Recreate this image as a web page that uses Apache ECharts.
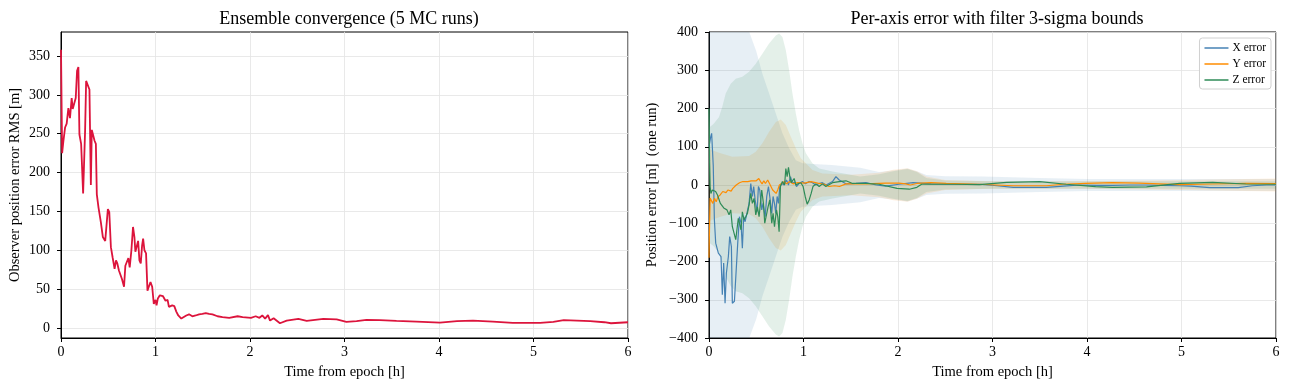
<meta charset="UTF-8">
<script src="https://cdn.jsdelivr.net/npm/echarts@6/dist/echarts.min.js"></script>

<style>
    body { margin: 0; }
</style>
<div id="main" style="width:1290px;height:390px;"></div>

<script>
    /* left panel: ensemble RMS position error */
    var rmsT = [0, 0.012, 0.025, 0.043, 0.06, 0.07, 0.078, 0.095, 0.113, 0.124, 0.142, 0.156, 0.17, 0.184, 0.195, 0.213, 0.234, 0.255, 0.266, 0.284, 0.301, 0.316, 0.326, 0.34, 0.355, 0.369, 0.379, 0.397, 0.422, 0.443, 0.468, 0.486, 0.496, 0.511, 0.528, 0.546, 0.567, 0.582, 0.596, 0.613, 0.645, 0.667, 0.681, 0.695, 0.713, 0.727, 0.745, 0.762, 0.777, 0.787, 0.801, 0.816, 0.83, 0.844, 0.858, 0.869, 0.883, 0.9, 0.915, 0.929, 0.947, 0.965, 0.982, 1.0, 1.011, 1.025, 1.046, 1.06, 1.078, 1.092, 1.106, 1.128, 1.142, 1.16, 1.177, 1.199, 1.22, 1.241, 1.273, 1.294, 1.326, 1.355, 1.39, 1.425, 1.461, 1.496, 1.532, 1.567, 1.603, 1.656, 1.709, 1.78, 1.869, 1.922, 2.01, 2.06, 2.1, 2.13, 2.16, 2.19, 2.212, 2.25, 2.317, 2.388, 2.512, 2.6, 2.776, 2.917, 3.02, 3.128, 3.233, 3.374, 3.55, 3.762, 4.01, 4.19, 4.36, 4.57, 4.78, 5.07, 5.21, 5.32, 5.46, 5.6, 5.75, 5.82, 6.0];
    var rmsVal = [358, 225, 240, 258, 263, 262, 283, 270, 296, 282, 290, 296, 331, 336, 249, 237, 173, 254, 318, 320, 307, 184, 255, 254, 241, 237, 172, 155, 136, 117, 112, 110, 153, 149, 104, 91, 76, 87, 83, 74, 63, 53, 80, 80, 90, 78, 100, 130, 117, 98, 100, 112, 87, 83, 106, 115, 100, 96, 48, 53, 59, 53, 31, 36, 29, 38, 42, 40, 41, 40, 35, 36, 27, 25, 29, 28, 21, 16, 12, 14, 16, 17.5, 15, 16, 17.5, 18, 19, 18, 17.5, 15, 14, 13, 15, 14, 13, 15, 13, 16, 12, 16.5, 9.4, 12.4, 6, 9.4, 11.6, 9, 11.6, 11, 7.7, 8.6, 10.3, 9.9, 9, 8.1, 6.9, 8.6, 9.4, 8.1, 6.4, 6.4, 7.7, 9.9, 9.4, 8.6, 7.3, 6, 7.3];
    var rmsTicks = [0, 50, 100, 150, 200, 250, 300, 350];

    /* right panel: per-axis error of one run */
    var xErrT = [0, 0.018, 0.028, 0.045, 0.057, 0.071, 0.085, 0.099, 0.113, 0.127, 0.141, 0.155, 0.17, 0.184, 0.205, 0.219, 0.237, 0.247, 0.269, 0.29, 0.304, 0.322, 0.339, 0.353, 0.367, 0.382, 0.403, 0.424, 0.442, 0.459, 0.473, 0.488, 0.509, 0.523, 0.537, 0.558, 0.572, 0.594, 0.611, 0.629, 0.643, 0.664, 0.678, 0.693, 0.707, 0.721, 0.735, 0.749, 0.77, 0.795, 0.82, 0.841, 0.862, 0.883, 0.905, 0.926, 0.954, 0.989, 1.02, 1.06, 1.095, 1.13, 1.166, 1.2, 1.24, 1.307, 1.343, 1.378, 1.449, 1.555, 1.66, 1.77, 1.87, 2.01, 2.16, 2.35, 2.6, 2.86, 3.05, 3.22, 3.4, 3.57, 3.75, 3.92, 4.1, 4.27, 4.45, 4.63, 4.8, 4.98, 5.1, 5.3, 5.45, 5.6, 5.75, 5.9, 6.0];
    var xErr = [100, 126, 135, 50, -91, -152, -152, -178, -180, -187, -287, -204, -309, -230, -187, -135, -161, -309, -304, -309, -152, -83, -100, -165, -83, -96, -91, -48, 4, -30, -4, -39, -70, -4, -13, -65, -48, -83, -30, -4, -30, -74, -30, -48, -74, -30, -48, -4, 4, 0, 13, 0, 22, 4, 8, -4, 4, 9, 3, 9, 6, 0, 4, 6, 0, 9, 22, 13, 3, 4, 6, 0, -3, 2, 6, 3, 2, 2, -2, -6, -6, -6, -3, 0, -1, -1, 0, 0, -1, -2, -3, -7, -7, -7, -2, 0, 0];

    var yErrT = [0, 0.005, 0.012, 0.02, 0.04, 0.058, 0.076, 0.095, 0.118, 0.146, 0.163, 0.18, 0.2, 0.234, 0.252, 0.288, 0.323, 0.358, 0.41, 0.446, 0.464, 0.5, 0.527, 0.545, 0.562, 0.58, 0.597, 0.621, 0.64, 0.657, 0.674, 0.692, 0.71, 0.727, 0.745, 0.763, 0.798, 0.82, 0.855, 0.89, 0.94, 1.01, 1.08, 1.15, 1.22, 1.27, 1.33, 1.38, 1.45, 1.66, 1.87, 2.01, 2.08, 2.13, 2.2, 2.35, 2.51, 2.86, 3.22, 3.57, 3.75, 3.99, 4.27, 4.55, 4.98, 5.33, 5.68, 6.0];
    var yErr = [-190, -120, -34, -39, -48, -35, -44, -31, -26, -17, -15, -20, -13, -16, -9, 0, 6, 9, 9, 11, 9, 11, 17, 9, 3, 11, 4, 13, 4, 5, -13, -9, -22, -13, 0, 4, 9, 3, 9, 3, 6, 5, 9, 5, 2, -4, -2, -4, 3, 3, 5, 5, 3, 0, 4, 6, 4, 2, -2, -2, 2, 4, 6, 5, 1, 2.6, 4, 3.5];

    var zErrT = [0, 0.003, 0.006, 0.012, 0.02, 0.035, 0.07, 0.09, 0.12, 0.16, 0.19, 0.212, 0.23, 0.247, 0.265, 0.283, 0.3, 0.31, 0.325, 0.339, 0.353, 0.371, 0.389, 0.406, 0.424, 0.442, 0.459, 0.477, 0.495, 0.512, 0.53, 0.544, 0.558, 0.576, 0.59, 0.608, 0.625, 0.643, 0.664, 0.678, 0.693, 0.714, 0.728, 0.742, 0.756, 0.777, 0.8, 0.813, 0.827, 0.841, 0.855, 0.87, 0.884, 0.901, 0.92, 0.947, 0.972, 0.996, 1.018, 1.039, 1.06, 1.081, 1.1, 1.131, 1.166, 1.2, 1.237, 1.307, 1.378, 1.449, 1.52, 1.66, 1.8, 1.99, 2.12, 2.2, 2.25, 2.6, 2.86, 3.15, 3.5, 3.78, 4.09, 4.27, 4.63, 4.98, 5.33, 5.68, 6.0];
    var zErr = [200, 150, 65, -4, -22, -13, -17, -26, -48, -61, -65, -78, -65, -109, -126, -143, -139, -87, -83, -117, -70, -91, -83, -74, -52, -22, -48, -35, -78, -57, -83, -48, -13, -48, -100, -100, -57, -39, -100, -74, -109, -65, -83, -122, -4, 9, 0, 43, 22, 46, 22, 6, 4, 17, 0, 4, 6, -4, -30, -50, -39, -22, -4, 3, -4, 3, -4, 6, 9, 11, 4, 4, 2, -9, -11, -6, 2, 2, 1, 7, 9, 2, -4, -6, -5, 4, 6.7, 2.6, 2];

    /* filter 3-sigma bounds (symmetric about zero) */
    var xSigT = [0, 0.1, 0.2, 0.3, 0.42, 0.5, 0.565, 0.636, 0.707, 0.777, 0.848, 0.919, 0.99, 1.1, 1.3, 1.6, 1.8, 1.95, 2.1, 2.2, 2.3, 2.5, 2.9, 3.5, 4.0, 5.0, 6.0];
    var xSig = [1500, 900, 650, 500, 404, 350, 291, 239, 187, 135, 96, 65, 57, 55, 52, 45, 34, 38, 43, 36, 26, 23, 22, 18, 16, 16, 16];
    var ySigT = [0, 0.035, 0.106, 0.247, 0.424, 0.495, 0.565, 0.636, 0.707, 0.76, 0.813, 0.866, 0.919, 0.972, 1.025, 1.095, 1.2, 1.5, 1.8, 1.95, 2.1, 2.2, 2.3, 2.5, 3, 4, 5, 6];
    var ySig = [95, 91, 84, 74, 76, 87, 109, 139, 165, 171, 157, 126, 96, 70, 57, 39, 30, 27, 32, 40, 44, 36, 22, 13, 10, 10, 13, 17];
    var zSigT = [0, 0.05, 0.106, 0.14, 0.177, 0.23, 0.283, 0.353, 0.424, 0.495, 0.565, 0.636, 0.707, 0.742, 0.777, 0.813, 0.848, 0.883, 0.919, 0.954, 0.989, 1.025, 1.095, 1.166, 1.307, 1.6, 1.8, 1.95, 2.1, 2.2, 2.3, 2.5, 3, 4, 5, 6];
    var zSig = [150, 160, 178, 204, 239, 265, 278, 283, 296, 317, 343, 370, 391, 396, 387, 352, 300, 239, 187, 143, 109, 83, 57, 43, 35, 22, 28, 36, 42, 34, 18, 12, 10, 10, 10, 10];

    var FONT = "'Liberation Serif', 'DejaVu Serif', serif";
    var X_COL = '#4682b4', Y_COL = '#ff8c00', Z_COL = '#2e8b57';

    function pairs(t, v) {
        return t.map(function (x, i) { return [x, v[i]]; });
    }

    function minusFmt(v) {
        return v < 0 ? '\u2212' + (-v) : String(v);
    }

    /* band drawn as one polygon through the axis scales */
    function band(t, s, fill) {
        return {
            type: 'custom',
            xAxisIndex: 1,
            yAxisIndex: 1,
            clip: true,
            silent: true,
            z: 1,
            data: [[0, 0]],
            renderItem: function (params, api) {
                var pts = [];
                for (var i = 0; i < t.length; i++) pts.push(api.coord([t[i], s[i]]));
                for (var j = t.length - 1; j >= 0; j--) pts.push(api.coord([t[j], -s[j]]));
                return {type: 'polygon', shape: {points: pts}, style: {fill: fill, stroke: null}};
            }
        };
    }

    function xAxisOf(idx) {
        return {
            type: 'value', gridIndex: idx, min: 0, max: 6, interval: 1,
            name: 'Time from epoch [h]', nameLocation: 'middle', nameGap: 27,
            nameTextStyle: {fontFamily: FONT, fontSize: 14.5, color: '#000'},
            axisLine: {onZero: false, lineStyle: {color: '#000', width: 1}},
            axisTick: {show: true, inside: false, length: 4, lineStyle: {color: '#000', width: 1}},
            axisLabel: {fontFamily: FONT, fontSize: 14, color: '#000', margin: 7},
            splitLine: {show: true, lineStyle: {color: '#e3e3e3', width: 0.8}}
        };
    }

    var chart = echarts.init(document.getElementById('main'));
    var option = {
        animation: false,
        backgroundColor: '#fff',
        title: [
            {text: 'Ensemble convergence (5 MC runs)', left: 344, top: 5, textAlign: 'center',
                textStyle: {fontFamily: FONT, fontSize: 18, fontWeight: 'normal', color: '#000'}},
            {text: 'Per-axis error with filter 3-sigma bounds', left: 992, top: 5, textAlign: 'center',
                textStyle: {fontFamily: FONT, fontSize: 18, fontWeight: 'normal', color: '#000'}}
        ],
        legend: {
            data: ['X error', 'Y error', 'Z error'],
            orient: 'vertical', right: 19, top: 38,
            backgroundColor: '#fff', borderColor: '#d0d0d0', borderWidth: 1, borderRadius: 3,
            padding: [4, 5, 3, 5], itemGap: 4, itemWidth: 24, itemHeight: 1.5, icon: 'rect',
            textStyle: {fontFamily: FONT, fontSize: 11.5, color: '#000', padding: [0, 0, 0, -1]}
        },
        grid: [
            {left: 61, right: 662, top: 32, bottom: 52, show: true, borderColor: '#000', borderWidth: 1, backgroundColor: 'transparent'},
            {left: 709, right: 14, top: 32, bottom: 52, show: true, borderColor: '#000', borderWidth: 1, backgroundColor: 'transparent'}
        ],
        xAxis: [xAxisOf(0), xAxisOf(1)],
        yAxis: [
            {
                type: 'value', gridIndex: 0, min: -13, max: 381,
                name: 'Observer position error RMS [m]', nameLocation: 'middle', nameGap: 38,
                nameTextStyle: {fontFamily: FONT, fontSize: 14.5, color: '#000'},
                axisLine: {show: true, onZero: false, lineStyle: {color: '#000', width: 1}},
                axisTick: {show: true, length: 4, customValues: rmsTicks, lineStyle: {color: '#000', width: 1}},
                axisLabel: {fontFamily: FONT, fontSize: 14, color: '#000', margin: 11, customValues: rmsTicks},
                splitLine: {show: true, lineStyle: {color: '#e3e3e3', width: 0.8}}
            },
            {
                type: 'value', gridIndex: 1, min: -400, max: 400, interval: 100,
                name: 'Position error [m]  (one run)', nameLocation: 'middle', nameGap: 49,
                nameTextStyle: {fontFamily: FONT, fontSize: 14.5, color: '#000'},
                axisLine: {show: true, onZero: false, lineStyle: {color: '#000', width: 1}},
                axisTick: {show: true, length: 4, lineStyle: {color: '#000', width: 1}},
                axisLabel: {fontFamily: FONT, fontSize: 14, color: '#000', margin: 11, formatter: minusFmt},
                splitLine: {show: true, lineStyle: {color: '#e3e3e3', width: 0.8}}
            }
        ],
        series: [
            {
                name: 'RMS', type: 'line', xAxisIndex: 0, yAxisIndex: 0,
                data: pairs(rmsT, rmsVal), showSymbol: false, z: 3,
                lineStyle: {color: '#dc143c', width: 1.8}
            },
            band(xSigT, xSig, 'rgba(70,130,180,0.13)'),
            band(ySigT, ySig, 'rgba(255,140,0,0.13)'),
            band(zSigT, zSig, 'rgba(46,139,87,0.13)'),
            {
                name: 'X error', type: 'line', xAxisIndex: 1, yAxisIndex: 1,
                data: pairs(xErrT, xErr), showSymbol: false, z: 3, color: X_COL,
                lineStyle: {color: X_COL, width: 1.2}
            },
            {
                name: 'Y error', type: 'line', xAxisIndex: 1, yAxisIndex: 1,
                data: pairs(yErrT, yErr), showSymbol: false, z: 3, color: Y_COL,
                lineStyle: {color: Y_COL, width: 1.2}
            },
            {
                name: 'Z error', type: 'line', xAxisIndex: 1, yAxisIndex: 1,
                data: pairs(zErrT, zErr), showSymbol: false, z: 3, color: Z_COL,
                lineStyle: {color: Z_COL, width: 1.2}
            }
        ]
    };
    chart.setOption(option);

    window.addEventListener("resize", function () {
        chart.resize();
    });
</script>
